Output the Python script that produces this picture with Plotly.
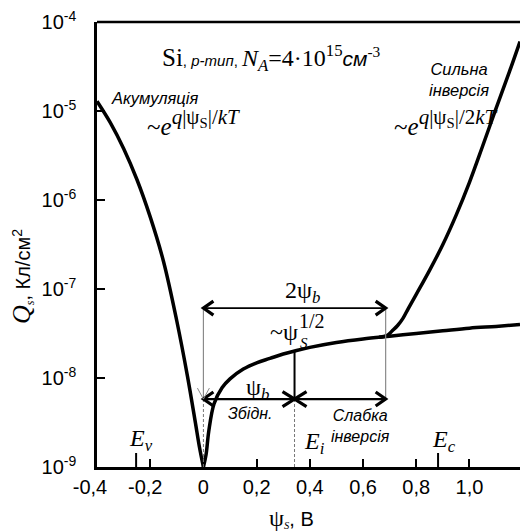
import numpy as np
import plotly.graph_objects as go

# ---------------- data ----------------
psi_acc = [-0.40, -0.35, -0.30, -0.25, -0.20, -0.15, -0.10, -0.06, -0.03, -0.015, 0.0]
q_acc = [1.29e-5, 7.41e-6, 3.80e-6, 1.70e-6, 6.46e-7, 2.04e-7, 4.37e-8, 1.05e-8, 3.13e-9, 1.68e-9, 1.0e-9]

psi_dep = [0.0, 0.01, 0.02, 0.04, 0.07, 0.10, 0.15, 0.20, 0.25, 0.30, 0.35, 0.40,
           0.50, 0.60, 0.70, 0.80, 0.90, 1.00, 1.10, 1.19]
q_dep = [1.0e-9, 1.38e-9, 2.51e-9, 5.13e-9, 7.76e-9, 9.77e-9, 1.26e-8, 1.48e-8, 1.66e-8,
         1.86e-8, 2.04e-8, 2.21e-8, 2.51e-8, 2.75e-8, 2.95e-8, 3.16e-8, 3.39e-8, 3.63e-8,
         3.80e-8, 3.98e-8]

psi_inv = [0.66, 0.69, 0.71, 0.73, 0.75, 0.77, 0.80, 0.85, 0.90, 0.95, 1.00, 1.05, 1.10, 1.15, 1.19]
q_inv = [2.87e-8, 2.99e-8, 3.39e-8, 3.89e-8, 4.68e-8, 6.03e-8, 8.71e-8, 1.62e-7, 3.16e-7,
         6.76e-7, 1.58e-6, 4.07e-6, 1.07e-5, 2.75e-5, 6.03e-5]

x_tickvals = [-0.4, -0.2, 0.0, 0.2, 0.4, 0.6, 0.8, 1.0]
x_ticktext = ["-0,4\u2002\u2009", "-0,2\u2002", "0", "0,2", "0,4", "0,6", "0,8", "1,0"]
y_tickvals = [1e-9, 1e-8, 1e-7, 1e-6, 1e-5, 1e-4]
y_ticktext = ["10<sup>-9</sup>", "10<sup>-8</sup>", "10<sup>-7</sup>",
              "10<sup>-6</sup>", "10<sup>-5</sup>", "10<sup>-4</sup>"]

PSI_B = 0.3425          # bulk potential, V
E_V = -0.253            # valence band edge marker
E_C = 0.882             # conduction band edge marker
Q_ARROW_LOW = 5.8e-9    # level of the psi_b arrows
Q_ARROW_HIGH = 6.1e-8   # level of the 2psi_b arrow
X_RANGE = [-0.4, 1.19]
Y_RANGE = [-9, -4]

W, H = 520, 531
ML, MR, MT, MB = 97, 0, 22, 64
PW, PH = W - ML - MR, H - MT - MB

SERIF = "Liberation Serif"
SANS = "Liberation Sans"


def P(px, py):
    """pixel position -> paper coordinates"""
    return (px - ML) / PW, (H - MB - py) / PH


fig = go.Figure()
line_style = dict(color="black", width=3.5, shape="spline", smoothing=1.0)
fig.add_trace(go.Scatter(x=psi_acc, y=q_acc, mode="lines", line=line_style,
                         hoverinfo="skip", showlegend=False))
fig.add_trace(go.Scatter(x=psi_dep, y=q_dep, mode="lines", line=line_style,
                         hoverinfo="skip", showlegend=False))
fig.add_trace(go.Scatter(x=psi_inv, y=q_inv, mode="lines", line=line_style,
                         hoverinfo="skip", showlegend=False))

shapes = []


def chevron(x, q, direction, length=10, half=7, width=3.2):
    dx = length if direction == "left" else -length
    return dict(type="path", xref="x", yref="y", xsizemode="pixel", ysizemode="pixel",
                xanchor=x, yanchor=q,
                path=f"M {dx},{half} L 0,0 L {dx},{-half}",
                line=dict(color="black", width=width), layer="above")


# top frame line
shapes.append(dict(type="line", xref="paper", yref="paper", x0=0, x1=1, y0=1, y1=1,
                   line=dict(color="black", width=2.5)))
# band edge markers
for xv in (E_V, E_C):
    shapes.append(dict(type="line", xref="x", yref="y", ysizemode="pixel",
                       yanchor=1e-9, x0=xv, x1=xv, y0=0, y1=14,
                       line=dict(color="black", width=2)))
# gray verticals for 2psi_b
for xv in (0.0, 2 * PSI_B):
    shapes.append(dict(type="line", xref="x", yref="y", x0=xv, x1=xv,
                       y0=Q_ARROW_LOW, y1=Q_ARROW_HIGH,
                       line=dict(color="#8a8a8a", width=1.2)))
# dashed lines down to the axis
for xv in (0.0, PSI_B):
    shapes.append(dict(type="line", xref="x", yref="y", x0=xv, x1=xv,
                       y0=1e-9, y1=Q_ARROW_LOW,
                       line=dict(color="#777777", width=1, dash="3px,2px")))
# black vertical at psi_b up to the curve
q_at_psib = 10 ** np.interp(PSI_B, psi_dep, np.log10(q_dep))
shapes.append(dict(type="line", xref="x", yref="y", x0=PSI_B, x1=PSI_B,
                   y0=Q_ARROW_LOW, y1=q_at_psib, line=dict(color="black", width=2)))
# horizontal arrow lines
shapes.append(dict(type="line", xref="x", yref="y", x0=0.0, x1=2 * PSI_B,
                   y0=Q_ARROW_HIGH, y1=Q_ARROW_HIGH, line=dict(color="black", width=1.6)))
shapes.append(dict(type="line", xref="x", yref="y", x0=0.0, x1=2 * PSI_B,
                   y0=Q_ARROW_LOW, y1=Q_ARROW_LOW, line=dict(color="black", width=2.2)))
# arrow heads
shapes.append(chevron(0.0, Q_ARROW_HIGH, "left"))
shapes.append(chevron(2 * PSI_B, Q_ARROW_HIGH, "right"))
shapes.append(chevron(0.0, Q_ARROW_LOW, "left"))
shapes.append(chevron(PSI_B, Q_ARROW_LOW, "right", length=12, half=7.5))
shapes.append(chevron(PSI_B, Q_ARROW_LOW, "left", length=12, half=7.5))
shapes.append(chevron(2 * PSI_B, Q_ARROW_LOW, "right"))
# thin gray pointer at psi = 0
shapes.append(dict(type="path", xref="x", yref="y", xsizemode="pixel", ysizemode="pixel",
                   xanchor=0.0, yanchor=Q_ARROW_LOW, path="M -6,11 L 0,0 L 6,11",
                   line=dict(color="#8a8a8a", width=1)))

annotations = []


def txt(text, px, py, size=16, family=SANS, xanchor="left", yanchor="middle", angle=0):
    x, y = P(px, py)
    annotations.append(dict(text=text, x=x, y=y, xref="paper", yref="paper",
                            xanchor=xanchor, yanchor=yanchor, showarrow=False,
                            textangle=angle, font=dict(family=family, size=size, color="black")))


SUP_BIG = '<span style="font-size:21px">'
txt('<span style="font-family:Liberation Serif;font-size:25px">Si</span>'
    '<span style="font-size:15px">, <i>p-тип</i>, </span>'
    '<span style="font-family:Liberation Serif;font-size:24px"><i>N</i><sub><i>A</i></sub>=4·10<sup>15</sup></span>'
    '<span style="font-size:21px"><i>см</i></span>'
    '<span style="font-family:Liberation Serif;font-size:22px"><sup>-3</sup></span>',
    160, 58, size=16)
txt("<i>Акумуляція</i>", 109, 98, size=16.5)
txt('~<i>e</i><sup>' + SUP_BIG + '<i>q</i>|ψ<sub>S</sub>|/<i>kT</i></span></sup>',
    145, 123, size=25, family=SERIF)
txt("<i>Сильна</i><br><i>інверсія</i>", 459, 79, size=16.5, xanchor="center")
txt('~<i>e</i><sup>' + SUP_BIG + '<i>q</i>|ψ<sub>S</sub>|/2<i>kT</i></span></sup>',
    392, 123, size=25, family=SERIF)
txt("2ψ<sub><i>b</i></sub>", 302, 292, size=24, family=SERIF, xanchor="center")
txt("~ψ", 268, 332, size=24, family=SERIF)
txt("<i>S</i>", 298, 343, size=15, family=SERIF)
txt("1/2", 297, 321, size=20, family=SERIF)
txt("ψ<sub><i>b</i></sub>", 257, 389, size=24, family=SERIF, xanchor="center")
txt("<i>Збідн.</i>", 250, 413, size=16, xanchor="center")
txt("<i>Слабка</i><br><i>інверсія</i>", 360, 426, size=16, xanchor="center")
txt("<i>E<sub>i</sub></i>", 302, 443, size=24, family=SERIF)
txt("<i>E<sub>v</sub></i>", 127, 440, size=24, family=SERIF)
txt("<i>E<sub>c</sub></i>", 430, 441, size=24, family=SERIF)
# axis titles
txt('<span style="font-family:Liberation Serif;font-size:24px">ψ</span>'
    '<span style="font-family:Liberation Serif;font-size:15px"><sub><i>S</i></sub></span>, В',
    291, 518, size=20, xanchor="center")
txt('<span style="font-family:Liberation Serif;font-size:26px"><i>Q</i></span>'
    '<span style="font-family:Liberation Serif;font-size:17px"><sub><i>s</i></sub></span>, Кл/см<sup>2</sup>',
    22, 277, size=20, xanchor="center", angle=-90)

fig.update_layout(
    width=W, height=H,
    margin=dict(l=ML, r=MR, t=MT, b=MB, pad=0, autoexpand=False),
    paper_bgcolor="white", plot_bgcolor="white",
    showlegend=False,
    shapes=shapes, annotations=annotations,
    font=dict(family=SANS, color="black"),
)
fig.update_xaxes(range=X_RANGE, showgrid=False, zeroline=False, showline=True,
                 linecolor="black", linewidth=2.5, mirror=False, automargin=False,
                 ticks="inside", ticklen=8, tickwidth=2, tickcolor="black",
                 tickvals=x_tickvals, ticktext=x_ticktext,
                 tickfont=dict(family=SANS, size=20), ticklabelstandoff=0)
fig.update_yaxes(type="log", range=Y_RANGE, showgrid=False, zeroline=False, showline=True,
                 linecolor="black", linewidth=2.5, mirror=False, automargin=False,
                 ticks="inside", ticklen=8, tickwidth=2, tickcolor="black",
                 tickvals=y_tickvals, ticktext=y_ticktext,
                 tickfont=dict(family=SANS, size=20), ticklabelstandoff=14)

fig.write_html("out.html", config={"displayModeBar": False},
               post_script="document.body.style.margin='0';document.body.style.overflow='hidden';")
